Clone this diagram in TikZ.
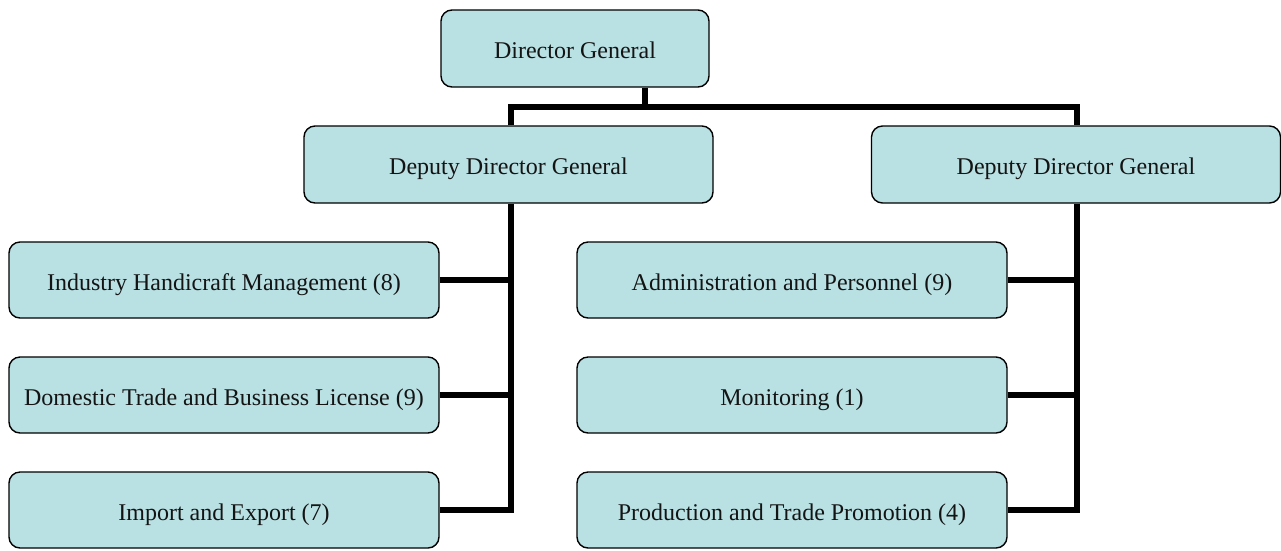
\documentclass[tikz,border=0pt]{standalone}
\usepackage{fontspec}
\setmainfont{Liberation Serif}
\definecolor{boxfill}{RGB}{185,224,227}
\definecolor{ink}{RGB}{20,20,20}
\begin{document}
\begin{tikzpicture}[x=1pt,y=-1pt,
  unit/.style={draw=black, line width=1.4pt, fill=boxfill, rounded corners=11pt,
    inner sep=0pt, text=ink, font=\fontsize{24}{28}\selectfont,
    text height=21pt, text depth=1pt},
  top/.style={unit, minimum width=268pt, minimum height=77pt},
  deputy/.style={unit, minimum width=409pt, minimum height=77pt},
  dept/.style={unit, minimum width=430pt, minimum height=76pt},
  link/.style={line width=5.5pt, line cap=butt}]
\useasboundingbox (0,0) rectangle (1281,550);

% boxes
\node[top] (dg) at (575,48.5) {Director General};
\node[deputy] (ddgL) at (508.5,164.5) {Deputy Director General};
\node[deputy] (ddgR) at (1076,164.5) {Deputy Director General};

\node[dept] (ihm) at (224,280) {Industry Handicraft Management (8)};
\node[dept] (dtb) at (224,395) {Domestic Trade and Business License (9)};
\node[dept] (iex) at (224,510) {Import and Export (7)};

\node[dept] (adm) at (792,280) {Administration and Personnel (9)};
\node[dept] (mon) at (792,395) {Monitoring (1)};
\node[dept] (ptp) at (792,510) {Production and Trade Promotion (4)};

% connectors
\coordinate (j) at (645,107);
\coordinate (sL) at (511,510);
\coordinate (sR) at (1077,510);
\draw[link] (dg.south -| j) -- (j);
\draw[link] (ddgL.north -| sL) |- (j) -| (ddgR.north -| sR);
\draw[link] (ddgL.south -| sL) -- (sL) -- (iex.east);
\draw[link] (ihm.east) -- (ihm.east -| sL);
\draw[link] (dtb.east) -- (dtb.east -| sL);
\draw[link] (ddgR.south -| sR) -- (sR) -- (ptp.east);
\draw[link] (adm.east) -- (adm.east -| sR);
\draw[link] (mon.east) -- (mon.east -| sR);
\end{tikzpicture}
\end{document}
